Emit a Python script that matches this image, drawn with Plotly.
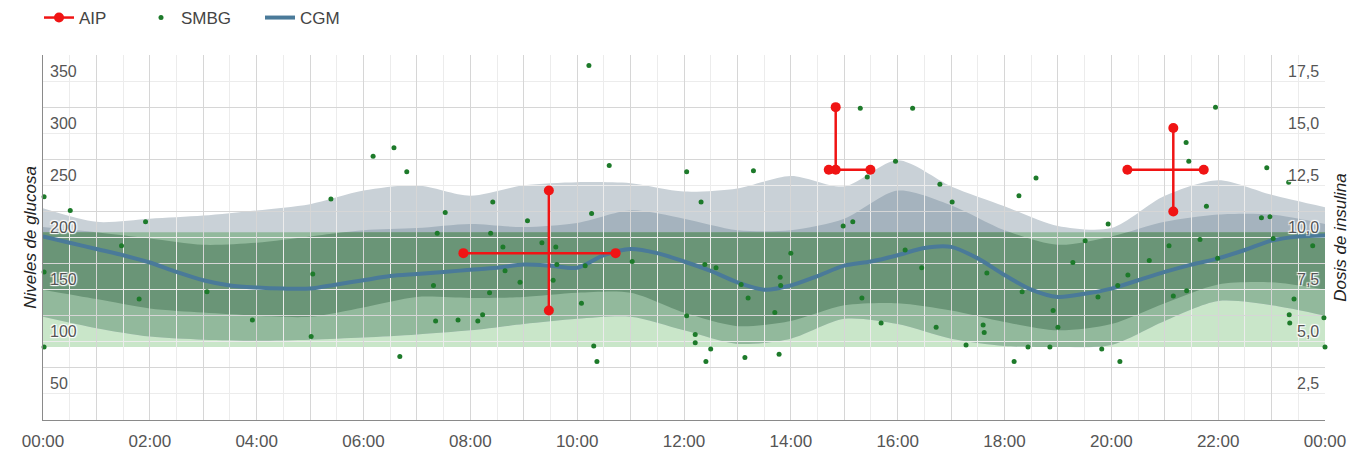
import plotly.graph_objects as go

# ---------------- data ----------------
band_hours = list(range(25))
p95 = [203, 190, 193, 196, 201, 207, 220, 225, 215, 225, 228, 227, 219, 222, 234, 224, 249, 224, 205, 186, 184, 215, 230, 216, 204]
p75 = [185, 180, 174, 168, 170, 176, 182, 184, 188, 185, 189, 201, 193, 182, 182, 193, 220, 206, 182, 168, 176, 190, 197, 197, 188]
p25 = [125, 116, 107, 103, 100, 99, 108, 118, 117, 118, 122, 122, 103, 90, 95, 110, 112, 105, 94, 86, 92, 112, 130, 132, 125]
p5 = [99, 88, 80, 77, 76, 77, 79, 82, 86, 92, 97, 99, 86, 73, 78, 97, 92, 78, 71, 70, 72, 95, 114, 110, 100]

cgm_hours = [0, 0.5, 1, 1.5, 2, 2.5, 3, 3.5, 4, 4.5, 5, 5.5, 6, 6.5, 7, 7.5, 8, 8.5, 9, 9.5, 10, 10.5,
             11, 11.5, 12, 12.5, 13, 13.5, 14, 14.5, 15, 15.5, 16, 16.5, 17, 17.5, 18, 18.5, 19, 19.5,
             20, 20.5, 21, 21.5, 22, 22.5, 23, 23.5, 24]
cgm_median = [176, 170, 164, 158, 151, 142, 134, 129, 127, 126, 126, 130, 134, 138, 140, 142, 144, 146,
              149, 148, 146, 158, 164, 160, 152, 143, 132, 125, 129, 138, 148, 152, 158, 165, 166, 155,
              139, 125, 118, 121, 126, 134, 142, 149, 155, 163, 172, 176, 177]

smbg_hours = [0.02, 0.02, 0.02, 0.51, 1.47, 1.80, 1.92, 3.07, 3.92, 5.02, 5.05, 5.39, 6.18, 6.57, 6.68,
              6.81, 7.31, 7.35, 7.38, 7.53, 7.77, 8.14, 8.23, 8.36, 8.38, 8.42, 8.61, 8.65, 8.93, 9.07,
              9.34, 9.55, 9.60, 9.62, 10.08, 10.15, 10.22, 10.27, 10.31, 10.37, 10.60, 11.03, 12.05,
              12.05, 12.21, 12.21, 12.32, 12.39, 12.41, 12.50, 12.60, 13.07, 13.14, 13.20, 13.30, 13.70,
              13.78, 13.80, 13.81, 14.00, 14.98, 15.16, 15.30, 15.33, 15.43, 15.69, 15.96, 16.14, 16.28,
              16.45, 16.72, 16.79, 17.02, 17.28, 17.60, 17.62, 17.67, 18.18, 18.27, 18.33, 18.44, 18.59,
              18.85, 18.91, 19.00, 19.28, 19.51, 19.75, 19.82, 19.94, 20.12, 20.16, 20.31, 20.71, 21.08,
              21.16, 21.40, 21.41, 21.45, 21.66, 21.78, 21.95, 21.99, 22.81, 22.91, 22.97, 23.03, 23.32,
              23.33, 23.34, 23.42, 23.77, 23.98, 24.0]
smbg_values = [214, 142, 70, 201, 167, 116, 190, 123, 96, 80, 140, 212, 253, 261, 61,
               238, 129, 95, 179, 199, 96, 95, 101, 122, 179, 209, 166, 143, 132, 191,
               170, 134, 166, 149, 112, 148, 340, 198, 71, 56, 244, 152, 238,
               100, 82, 74, 209, 149, 56, 68, 146, 130, 60, 117, 239, 103,
               63, 137, 129, 160, 186, 190, 299, 117, 233, 93, 248, 163, 299,
               146, 89, 226, 209, 72, 91, 84, 141, 56, 215, 123, 70, 232,
               70, 105, 89, 151, 172, 118, 68, 188, 129, 56, 139, 153, 167,
               119, 266, 124, 248, 173, 205, 300, 155, 194, 242, 195, 174, 228,
               101, 93, 116, 167, 98, 70]

aip_hours = [9.47, 14.84, 21.16]
aip_hours_minus = [1.60, 0.13, 0.86]
aip_hours_plus = [1.25, 0.65, 0.57]
aip_dose = [8.0, 12.0, 12.0]
aip_dose_minus = [2.75, 0.0, 2.0]
aip_dose_plus = [3.0, 3.0, 2.0]

x_tick_hours = list(range(25))
x_tick_labels = ["00:00", "", "02:00", "", "04:00", "", "06:00", "", "08:00", "", "10:00", "", "12:00", "",
                 "14:00", "", "16:00", "", "18:00", "", "20:00", "", "22:00", "", "00:00"]
glucose_ticks = [50, 100, 150, 200, 250, 300, 350]
glucose_labels = ["50", "100", "150", "200", "250", "300", "350"]
insulin_ticks = [2.5, 5.0, 7.5, 10.0, 12.5, 15.0, 17.5]
insulin_labels = ["2,5", "5,0", "7,5", "10,0", "12,5", "15,0", "17,5"]

TARGET_LOW, TARGET_HIGH = 70, 180
GLUCOSE_MAX = 350
INSULIN_MAX = 17.5

# ---------------- style ----------------
FONT = "Liberation Sans, Arial, sans-serif"
GRAY_OUTER = "#c9d1d7"
GRAY_INNER = "#a5b3be"
GREEN_TARGET = "#c9e6c9"
GREEN_OUTER = "#92b99c"
GREEN_INNER = "#6a9577"
CGM_COLOR = "#4a7a99"
SMBG_COLOR = "#1d7a2a"
AIP_COLOR = "#f01414"
LABEL_COLOR = "#555"
SHADOW = "1px 1px 1px white, -1px -1px 1px white, 1px -1px 1px white, -1px 1px 1px white"

# the page body has an 8px default margin: size the figure to fit the 1355x455 window
PAGE_OFFSET = 8
FIG_W, FIG_H = 1355 - PAGE_OFFSET, 455 - PAGE_OFFSET

fig = go.Figure()

def add_bands(xa, ya, c_outer, c_inner):
    common = dict(x=band_hours, mode="lines", xaxis=xa, yaxis=ya, showlegend=False, hoverinfo="skip")
    fig.add_trace(go.Scatter(y=p95, line=dict(width=0, shape="spline", smoothing=0.8), **common))
    fig.add_trace(go.Scatter(y=p5, fill="tonexty", fillcolor=c_outer,
                             line=dict(width=0, shape="spline", smoothing=0.8), **common))
    fig.add_trace(go.Scatter(y=p75, line=dict(width=0, shape="spline", smoothing=0.8), **common))
    fig.add_trace(go.Scatter(y=p25, fill="tonexty", fillcolor=c_inner,
                             line=dict(width=0, shape="spline", smoothing=0.8), **common))

# gray bands (full) and green bands (clipped to the target-range subplot)
add_bands("x", "y", GRAY_OUTER, GRAY_INNER)
add_bands("x2", "y2", GREEN_OUTER, GREEN_INNER)

# CGM median line
fig.add_trace(go.Scatter(x=cgm_hours, y=cgm_median, mode="lines", name="CGM",
                         line=dict(color=CGM_COLOR, width=4, shape="spline", smoothing=0.8),
                         xaxis="x3", yaxis="y3", legend="legend3", hoverinfo="skip"))
# SMBG points
fig.add_trace(go.Scatter(x=smbg_hours, y=smbg_values, mode="markers", name="SMBG",
                         marker=dict(color=SMBG_COLOR, size=5), cliponaxis=False,
                         xaxis="x3", yaxis="y3", legend="legend2", hoverinfo="skip"))

# AIP crosses
ax_, ay_ = [], []
for h, hm, hp, d, dm, dp in zip(aip_hours, aip_hours_minus, aip_hours_plus, aip_dose, aip_dose_minus, aip_dose_plus):
    ax_ += [h, h, None, h - hm, h + hp, None]
    ay_ += [d - dm, d + dp, None, d, d, None]
fig.add_trace(go.Scatter(x=ax_, y=ay_, mode="lines+markers", name="AIP",
                         line=dict(color=AIP_COLOR, width=2.5),
                         marker=dict(color=AIP_COLOR, size=10),
                         xaxis="x3", yaxis="y4", legend="legend", hoverinfo="skip"))

annotations = []
for v, t in zip(glucose_ticks, glucose_labels):
    annotations.append(dict(text=t, x=0, xref="x3 domain", xanchor="left", xshift=5, y=v, yref="y3",
                            yanchor="middle", yshift=-16, showarrow=False,
                            font=dict(size=16, color=LABEL_COLOR, shadow=SHADOW)))
for v, t in zip(insulin_ticks, insulin_labels):
    annotations.append(dict(text=t, x=1, xref="x3 domain", xanchor="right", xshift=-4, y=v, yref="y4",
                            yanchor="middle", yshift=-16, showarrow=False,
                            font=dict(size=16, color=LABEL_COLOR, shadow=SHADOW)))

leg_common = dict(orientation="h", xref="container", yref="container", y=1 - (18 - PAGE_OFFSET) / FIG_H,
                  yanchor="middle", xanchor="left", font=dict(size=17, color="#444"), bgcolor="rgba(0,0,0,0)")

fig.update_layout(
    width=FIG_W, height=FIG_H,
    margin=dict(l=43 - PAGE_OFFSET, r=30, t=55 - PAGE_OFFSET, b=35),
    paper_bgcolor="white", plot_bgcolor="rgba(0,0,0,0)",
    separators=", ",
    font=dict(family=FONT, size=15, color="#444"),
    showlegend=True,
    legend=dict(x=(39 - PAGE_OFFSET) / FIG_W, **leg_common),
    legend2=dict(x=(141 - PAGE_OFFSET) / FIG_W, **leg_common),
    legend3=dict(x=(260 - PAGE_OFFSET) / FIG_W, **leg_common),
    annotations=annotations,
    shapes=[dict(type="rect", xref="x", yref="y", x0=band_hours[0], x1=band_hours[-1],
                 y0=TARGET_LOW, y1=TARGET_HIGH, fillcolor=GREEN_TARGET, line=dict(width=0), layer="below")],
    xaxis=dict(domain=[0, 1], range=[0, 24], visible=False, anchor="y"),
    yaxis=dict(domain=[0, 1], range=[0, GLUCOSE_MAX], visible=False, anchor="x"),
    xaxis2=dict(domain=[0, 1], range=[0, 24], visible=False, anchor="y2"),
    yaxis2=dict(domain=[TARGET_LOW / GLUCOSE_MAX, TARGET_HIGH / GLUCOSE_MAX], range=[TARGET_LOW, TARGET_HIGH],
                visible=False, anchor="x2"),
    xaxis3=dict(domain=[0, 1], range=[0, 24], anchor="y3", tickmode="array", tickvals=x_tick_hours,
                ticktext=x_tick_labels, showgrid=True, gridcolor="#d6d6d6", gridwidth=1,
                minor=dict(tickmode="linear", tick0=0, dtick=0.5, showgrid=True, gridcolor="#ececec"),
                showline=True, linecolor="#8a8a8a", linewidth=1, ticks="outside", ticklen=6,
                tickcolor="rgba(0,0,0,0)", tickfont=dict(size=17, color=LABEL_COLOR), zeroline=False,
                automargin=False),
    yaxis3=dict(domain=[0, 1], range=[0, GLUCOSE_MAX], anchor="x3", tickmode="array", tickvals=glucose_ticks,
                showticklabels=False, showgrid=True, gridcolor="#d6d6d6",
                minor=dict(tickmode="linear", tick0=0, dtick=25, showgrid=True, gridcolor="#ececec"),
                showline=True, linecolor="#8a8a8a", zeroline=False, automargin=False,
                title=dict(text="<i>Niveles de glucosa</i>", font=dict(size=17, color="#222"), standoff=1)),
    yaxis4=dict(range=[0, INSULIN_MAX], anchor="x3", overlaying="y3", side="right", tickmode="array",
                tickvals=insulin_ticks, showticklabels=False, showgrid=False, zeroline=False, automargin=False,
                title=dict(text="<i>Dosis de insulina</i>", font=dict(size=17, color="#222"), standoff=9)),
)

fig.write_html("out.html")
